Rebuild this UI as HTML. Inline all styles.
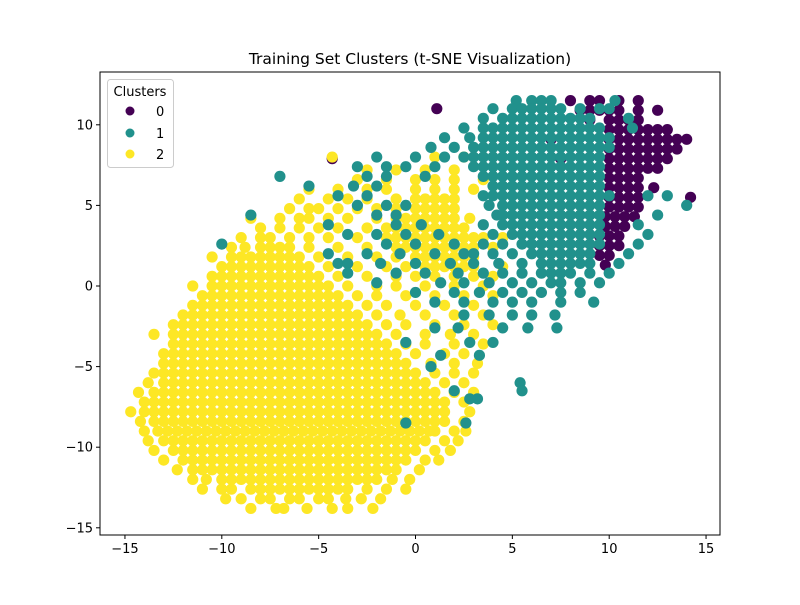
<!DOCTYPE html>
<html><head><meta charset="utf-8"><style>
body{margin:0;background:#fff;font-family:"Liberation Sans","DejaVu Sans",sans-serif}
svg text{font-family:"DejaVu Sans","Liberation Sans",sans-serif}
</style></head><body>
<svg id="chart" width="800" height="600" viewBox="0 0 800 600">
<rect width="800" height="600" fill="#fff"/>
<text x="410" y="64" font-size="15.5" text-anchor="middle">Training Set Clusters (t-SNE Visualization)</text>
<g id="marks"></g>
<rect x="100" y="72" width="620" height="463" fill="none" stroke="#000" stroke-width="1"/>
<g id="axes"></g>
<g>
<rect x="107.5" y="79.5" width="66" height="88" rx="3" fill="#fff" fill-opacity="0.8" stroke="#ccc"/>
<text x="140" y="96" font-size="13" text-anchor="middle">Clusters</text>
<g><circle cx="130" cy="111" r="4.5" fill="#440154"/><text x="156" y="116" font-size="13">0</text></g>
<g><circle cx="130" cy="133" r="4.5" fill="#21918c"/><text x="156" y="138" font-size="13">1</text></g>
<g><circle cx="130" cy="154" r="4.5" fill="#fde725"/><text x="156" y="159" font-size="13">2</text></g>
</g>
</svg>
<script>
const xTicks=[-15,-10,-5,0,5,10,15];
const yTicks=[-15,-10,-5,0,5,10];
const clusterColors=["#440154","#21918c","#fde725"];
// rows: [y, x1, x2, ...]
const purpleRows=[
[11.5,8,9,9.5,10.5,11.5],[10.9,8.5,9,9.5,10,10.5,11.5,12.5],[10.3,9,10,10.5,11,11.5],
[9.7,10,10.5,11,11.5,12,12.5,13],[9.1,7,10,10.5,11,11.5,12,12.5,13,13.5,14],
[8.5,10,10.5,11,11.5,12,12.5,13,13.5],[7.9,-4.3,7.5,10,10.5,11,11.5,12,12.5,13],
[7.3,10,10.5,11,11.5,12,12.5],[6.7,10,10.5,11,11.5],[6.1,10,10.5,11,11.5,12.3],
[5.5,10,10.5,11,11.5,14.2],[4.9,10,10.5,11,11.5],[4.3,9.8,10.3,10.8,11.3],
[3.7,9.8,10.3,10.8],[3.1,9.5,10,10.5],[2.5,9.5,10,10.5],[1.9,9.5,10],[1.3,9.8],[11,1.1]
];
const yellowRows=[
[8.0,-4.3,1,2.5],[7.2,-2.5,-1,0.5,2],[6.6,-3,-1.5,0,1,2,3.5],[6.0,-5.5,-4,-2.5,-1.5,0,1,2,3],
[5.4,-6,-4.5,-3.5,-2.5,-1,0,0.5,1,1.5,2],[4.8,-6.5,-5.5,-5,-4,-3,-2,-1,0,0.5,1,1.5,2],
[4.2,-8.5,-7,-6,-5.5,-4.5,-3.5,-2,-1,-0.5,0,0.5,1,1.5,2,2.8],
[3.6,-8,-7,-6,-5,-4,-2.5,-1.5,-1,-0.5,0,0.5,1,1.5,2,2.5],
[3.0,-9,-8,-7.5,-6.5,-5.5,-4.5,-3,-1.5,-1,-0.5,0,0.5,1,1.5,2,2.5,3,3.5,4.5],
[2.4,-9.5,-8.8,-8,-7.5,-7,-6.5,-5.5,-4,-2.5,-1,-0.5,0,0.5,1,1.5,2,2.5,3,4],
[1.8,-10.5,-9.5,-9,-8.5,-8,-7.5,-7,-6.5,-6,-5,-3.5,-2,-1,0,0.5,1,1.5,2,2.5,3],
[1.2,-10,-9.5,-9,-8.5,-8,-7.5,-7,-6.5,-6,-5.5,-4.5,-3,-1.5,-0.5,0.5,1,1.5,2,2.5,3,4.5],
[0.6,-10.5,-10,-9.5,-9,-8.5,-8,-7.5,-7,-6.5,-6,-5.5,-5,-4,-2.5,-1,0,1,2,3,4],
[0,-11.5,-10.5,-10,-9.5,-9,-8.5,-8,-7.5,-7,-6.5,-6,-5.5,-5,-4.5,-3.5,-2,-1,0.5,2,3.5],
[-0.6,-11,-10.5,-10,-9.5,-9,-8.5,-8,-7.5,-7,-6.5,-6,-5.5,-5,-4.5,-4,-3,-2,-0.5,1,2.5,4],
[-1.2,-11.5,-11,-10.5,-10,-9.5,-9,-8.5,-8,-7.5,-7,-6.5,-6,-5.5,-5,-4.5,-4,-3.5,-2.5,-1.5,0,1.5,3],
[-1.8,-12,-11.5,-11,-10.5,-10,-9.5,-9,-8.5,-8,-7.5,-7,-6.5,-6,-5.5,-5,-4.5,-4,-3.5,-3,-2,-0.8,0.5,2,3.5],
[-2.4,-12.5,-12,-11.5,-11,-10.5,-10,-9.5,-9,-8.5,-8,-7.5,-7,-6.5,-6,-5.5,-5,-4.5,-4,-3.5,-3,-2.5,-1.5,-0.5,1,2.5,4],
[-3.0,-13.5,-12.5,-12,-11.5,-11,-10.5,-10,-9.5,-9,-8.5,-8,-7.5,-7,-6.5,-6,-5.5,-5,-4.5,-4,-3.5,-3,-2.5,-2,-1,0.5,1.8,3],
[-3.6,-12.5,-12,-11.5,-11,-10.5,-10,-9.5,-9,-8.5,-8,-7.5,-7,-6.5,-6,-5.5,-5,-4.5,-4,-3.5,-3,-2.5,-2,-1.5,-0.5,0.5,2,3.5],
[-4.2,-13,-12.5,-12,-11.5,-11,-10.5,-10,-9.5,-9,-8.5,-8,-7.5,-7,-6.5,-6,-5.5,-5,-4.5,-4,-3.5,-3,-2.5,-2,-1.5,-1,0,1.5,2.5],
[-4.8,-13,-12.5,-12,-11.5,-11,-10.5,-10,-9.5,-9,-8.5,-8,-7.5,-7,-6.5,-6,-5.5,-5,-4.5,-4,-3.5,-3,-2.5,-2,-1.5,-1,-0.5,0.8,2,3.2],
[-5.4,-13.5,-13,-12.5,-12,-11.5,-11,-10.5,-10,-9.5,-9,-8.5,-8,-7.5,-7,-6.5,-6,-5.5,-5,-4.5,-4,-3.5,-3,-2.5,-2,-1.5,-1,-0.5,0,1,2,3],
[-6.0,-13.8,-13,-12.5,-12,-11.5,-11,-10.5,-10,-9.5,-9,-8.5,-8,-7.5,-7,-6.5,-6,-5.5,-5,-4.5,-4,-3.5,-3,-2.5,-2,-1.5,-1,-0.5,0,0.5,1.5,2.5],
[-6.6,-14.3,-13.5,-13,-12.5,-12,-11.5,-11,-10.5,-10,-9.5,-9,-8.5,-8,-7.5,-7,-6.5,-6,-5.5,-5,-4.5,-4,-3.5,-3,-2.5,-2,-1.5,-1,-0.5,0,0.5,1,2,3],
[-7.2,-14,-13.5,-13,-12.5,-12,-11.5,-11,-10.5,-10,-9.5,-9,-8.5,-8,-7.5,-7,-6.5,-6,-5.5,-5,-4.5,-4,-3.5,-3,-2.5,-2,-1.5,-1,-0.5,0,0.5,1,1.5,2.5],
[-7.8,-14.7,-14,-13.5,-13,-12.5,-12,-11.5,-11,-10.5,-10,-9.5,-9,-8.5,-8,-7.5,-7,-6.5,-6,-5.5,-5,-4.5,-4,-3.5,-3,-2.5,-2,-1.5,-1,-0.5,0,0.5,1,1.5,2.8],
[-8.4,-14.2,-13.5,-13,-12.5,-12,-11.5,-11,-10.5,-10,-9.5,-9,-8.5,-8,-7.5,-7,-6.5,-6,-5.5,-5,-4.5,-4,-3.5,-3,-2.5,-2,-1.5,-1,-0.5,0,0.5,1,1.5,2.5],
[-9.0,-14,-13.3,-12.8,-12.3,-11.8,-11.3,-10.8,-10.3,-9.8,-9.3,-8.8,-8.3,-7.8,-7.3,-6.8,-6.3,-5.8,-5.3,-4.8,-4.3,-3.8,-3.3,-2.8,-2.3,-1.8,-1.3,-0.8,-0.3,0.2,0.7,1,2,2.6],
[-9.6,-13.8,-13,-12.5,-12,-11.5,-11,-10.5,-10,-9.5,-9,-8.5,-8,-7.5,-7,-6.5,-6,-5.5,-5,-4.5,-4,-3.5,-3,-2.5,-2,-1.5,-1,-0.5,0,0.5,1.5,2.2],
[-10.2,-13.5,-12.5,-12,-11.5,-11,-10.5,-10,-9.5,-9,-8.5,-8,-7.5,-7,-6.5,-6,-5.5,-5,-4.5,-4,-3.5,-3,-2.5,-2,-1.5,-1,-0.5,0,1,1.8],
[-10.8,-13,-12,-11.5,-11,-10.5,-10,-9.5,-9,-8.5,-8,-7.5,-7,-6.5,-6,-5.5,-5,-4.5,-4,-3.5,-3,-2.5,-2,-1.5,-1,-0.5,0.5,1.2],
[-11.4,-12.3,-11.5,-11,-10.5,-10,-9.5,-9,-8.5,-8,-7.5,-7,-6.5,-6,-5.5,-5,-4.5,-4,-3.5,-3,-2.5,-2,-1.5,-1,0.2],
[-12.0,-11.5,-10.8,-10,-9.5,-9,-8.5,-8,-7.5,-7,-6.5,-6,-5.5,-5,-4.5,-4,-3.5,-3,-2.5,-2,-1.2,-0.3],
[-12.6,-11,-10,-9.5,-8.5,-8,-7.5,-7,-6.5,-6,-5.5,-5,-4.5,-4,-3.5,-2.5,-1.5,-0.5],
[-13.2,-9.8,-9,-8,-7.5,-6.5,-6,-5,-4.5,-3.6,-2.8,-1.8],
[-13.8,-8.5,-7.2,-6.8,-5.6,-4.3,-3.5,-2.2]
];
const tealRows=[
[11.5,5.2,6,6.5,7,10.3],[11.0,4,5,5.5,6,6.5,7,7.5,8.5,9.5,10],
[10.4,3.5,4.5,5,5.5,6,6.5,7,7.5,8,8.5,9,11],
[9.8,2.5,3.5,4,4.5,5,5.5,6,6.5,7,7.5,8,8.5,9,9.5,11.2],
[9.2,1.5,2.8,3.5,4,4.5,5,5.5,6,6.5,7,7.5,8,8.5,9,9.5,10],
[8.6,0.8,2,3,3.5,4,4.5,5,5.5,6,6.5,7,7.5,8,8.5,9,9.5,10],
[8.0,-2,0,1.5,2.5,3,3.5,4,4.5,5,5.5,6,6.5,7,7.5,8,8.5,9,9.5],
[7.4,-3,-1.5,-0.5,1,3,3.5,4,4.5,5,5.5,6,6.5,7,7.5,8,8.5,9,9.5],
[6.8,-7,-2.5,-1.5,0.5,3.5,4,4.5,5,5.5,6,6.5,7,7.5,8,8.5,9,9.5],
[6.2,-5.5,-3.2,-2,4,4.5,5,5.5,6,6.5,7,7.5,8,8.5,9,9.5],
[5.6,-4,-2.5,3.5,4,4.5,5,5.5,6,6.5,7,7.5,8,8.5,9,9.5,10,12,13],
[5.0,-3,-1.5,-0.5,3.8,4.5,5,5.5,6,6.5,7,7.5,8,8.5,9,9.5,14],
[4.4,-8.5,-2,-1,4.2,4.5,5,5.5,6,6.5,7,7.5,8,8.5,9,9.5,12.5],
[3.8,-4.5,-1,0.3,3.5,4.5,5,5.5,6,6.5,7,7.5,8,8.5,9,9.5,11.5],
[3.2,-3.5,-2,-0.5,1.2,4,5,5.5,6,6.5,7,7.5,8,8.5,9,9.5,12],
[2.6,-10,-1.5,0,2,3.5,4.5,5.5,6,6.5,7,7.5,8,8.5,9,9.5,11.5],
[2.0,-4.5,-2.5,-0.8,1,2.5,3,4,5,6,6.5,7,7.5,8,8.5,9,11],
[1.4,-4,-3.5,-1.8,0,1.8,3,4.3,5.5,6.5,7,7.5,8,8.5,9,10.5],
[0.8,-3.5,-1,0.5,2.2,3.5,4.5,5.5,6.5,7,7.5,8,9,10],
[0.2,-2,1.3,2.5,3.8,5,6,7,7.5,8.5,9.5],
[-0.4,0,2,3.3,4.5,5.5,6.5,7.5,8.5],[-1.0,1,2.5,4,5,6,7.5,9.2],
[-1.8,2.5,3.8,5,6,7.2],[-2.6,1,2.2,4.5,5.8,7.3],[-3.5,-0.5,2.8,4],
[-4.3,1.3,3.3],[-5.0,0.8],[-6.0,5.4],[-6.5,5.5,2],[-7.0,3.2,2.8],[-8.5,2.6,-0.5]
];
const X0=100,X1=720,Y0=72,Y1=535;
function sx(v){return 415.5+v*19.37;}
function sy(v){return 286-v*16.12;}
const NS="http://www.w3.org/2000/svg";
const marks=document.getElementById('marks');
function drawCluster(rows,ci){
  const g=document.createElementNS(NS,'g');
  
  
  rows.forEach(r=>{
    for(let i=1;i<r.length;i++){
      const c=document.createElementNS(NS,'circle');
      
      
      c.setAttribute('cx',sx(r[i]));c.setAttribute('cy',sy(r[0]));
      c.setAttribute('r',5.6);c.setAttribute('fill',clusterColors[ci]);
      g.appendChild(c);
    }
  });
  marks.appendChild(g);
}
drawCluster(purpleRows,0);
drawCluster(yellowRows,2);
drawCluster(tealRows,1);
const axes=document.getElementById('axes');
xTicks.forEach(t=>{
  const x=sx(t);
  const l=document.createElementNS(NS,'line');
  
  
  l.setAttribute('x1',x);l.setAttribute('x2',x);l.setAttribute('y1',Y1);l.setAttribute('y2',Y1+4);l.setAttribute('stroke','#000');
  axes.appendChild(l);
  const tx=document.createElementNS(NS,'text');
  
  
  tx.setAttribute('x',x);tx.setAttribute('y',Y1+18);tx.setAttribute('font-size','13');tx.setAttribute('text-anchor','middle');
  tx.textContent=t<0?'\u2212'+(-t):String(t);
  axes.appendChild(tx);
});
yTicks.forEach(t=>{
  const y=sy(t);
  const l=document.createElementNS(NS,'line');
  
  
  l.setAttribute('x1',X0-4);l.setAttribute('x2',X0);l.setAttribute('y1',y);l.setAttribute('y2',y);l.setAttribute('stroke','#000');
  axes.appendChild(l);
  const tx=document.createElementNS(NS,'text');
  
  
  tx.setAttribute('x',X0-7);tx.setAttribute('y',y+4.5);tx.setAttribute('font-size','13');tx.setAttribute('text-anchor','end');
  tx.textContent=t<0?'\u2212'+(-t):String(t);
  axes.appendChild(tx);
});
</script>
</body></html>
